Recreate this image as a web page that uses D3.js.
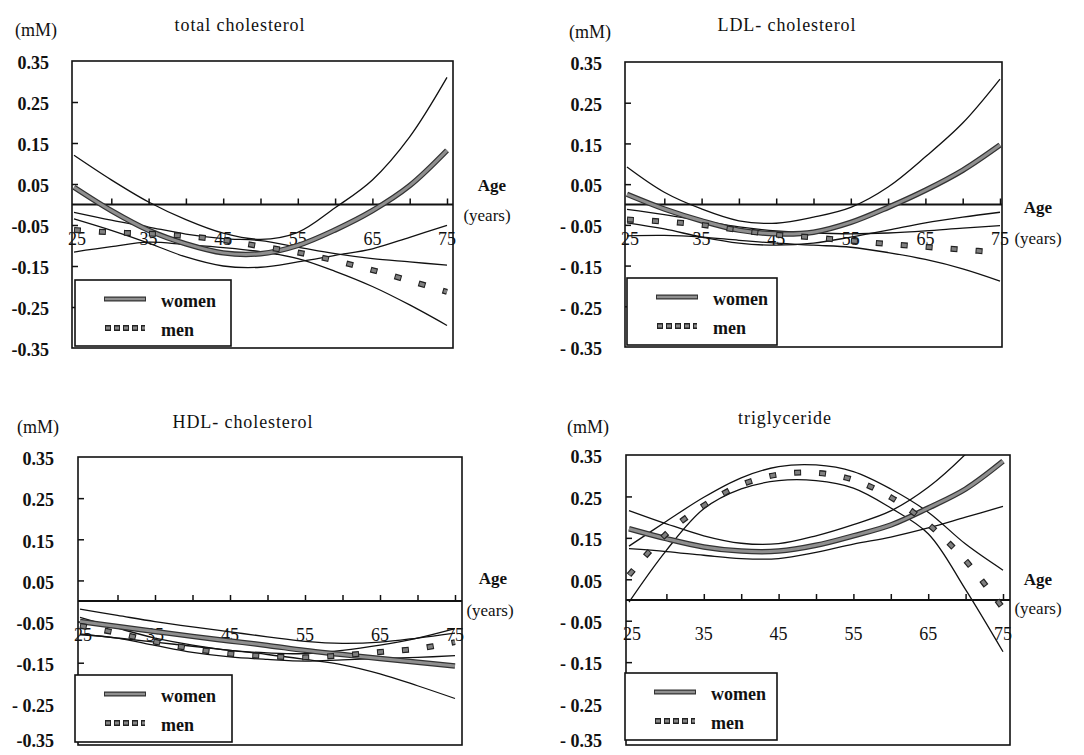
<!DOCTYPE html>
<html>
<head>
<meta charset="utf-8">
<script src="https://cdn.jsdelivr.net/npm/d3@7"></script>
<style>
  body { margin: 0; background: #fff; }
  svg { display: block; }
  text { font-family: "Liberation Serif", "Times New Roman", serif; fill: #111; }
</style>
</head>
<body>
<svg id="chart" width="1084" height="755"></svg>
<script>
// ---------- data ----------
const ages = [25, 30, 35, 40, 45, 50, 55, 60, 65, 70, 75];
const xTickAges = [30, 35, 40, 45, 50, 55, 60, 65, 70, 75];
const xTickLabels = ["25", "35", "45", "55", "65", "75"];
const yTickValues = [0.35, 0.25, 0.15, 0.05, -0.05, -0.15, -0.25, -0.35];
const yLabelsTC  = ["0.35", "0.25", "0.15", "0.05", "-0.05", "-0.15", "-0.25", "-0.35"];
const yLabelsLDL = ["0.35", "0.25", "0.15", "0.05", "- 0.05", "- 0.15", "- 0.25", "- 0.35"];
const yLabelsHDL = ["0.35", "0.25", "0.15", "0.05", "-0.05", "-0.15", "- 0.25", "-0.35"];
const yLabelsTG  = ["0.35", "0.25", "0.15", "0.05", "- 0.05", "- 0.15", "- 0.25", "- 0.35"];
const titles = ["total cholesterol", "LDL- cholesterol", "HDL- cholesterol", "triglyceride"];
const legendLabels = ["women", "men"];

// total cholesterol
const tcWomen      = [0.042, -0.015, -0.063, -0.096, -0.118, -0.12, -0.1, -0.062, -0.015, 0.046, 0.132];
const tcWomenUpper = [0.12, 0.06, 0.006, -0.037, -0.07, -0.085, -0.068, -0.008, 0.06, 0.165, 0.31];
const tcWomenLower = [-0.035, -0.063, -0.094, -0.128, -0.15, -0.153, -0.14, -0.124, -0.108, -0.08, -0.051];
const tcMen        = [-0.062, -0.068, -0.071, -0.077, -0.087, -0.102, -0.117, -0.137, -0.16, -0.186, -0.213];
const tcMenUpper   = [-0.019, -0.038, -0.055, -0.072, -0.083, -0.088, -0.104, -0.12, -0.132, -0.14, -0.148];
const tcMenLower   = [-0.116, -0.103, -0.092, -0.098, -0.105, -0.115, -0.132, -0.163, -0.2, -0.245, -0.295];

// LDL-cholesterol
const ldlWomen      = [0.025, -0.011, -0.04, -0.063, -0.072, -0.068, -0.044, -0.007, 0.035, 0.084, 0.146];
const ldlWomenUpper = [0.092, 0.03, -0.011, -0.04, -0.046, -0.031, -0.007, 0.043, 0.117, 0.2, 0.308];
const ldlWomenLower = [-0.045, -0.06, -0.08, -0.095, -0.1, -0.095, -0.08, -0.063, -0.045, -0.031, -0.019];
const ldlMen        = [-0.037, -0.042, -0.05, -0.063, -0.074, -0.081, -0.089, -0.097, -0.104, -0.111, -0.118];
const ldlMenUpper   = [-0.012, -0.025, -0.04, -0.055, -0.065, -0.07, -0.072, -0.07, -0.065, -0.058, -0.052];
const ldlMenLower   = [-0.077, -0.076, -0.08, -0.088, -0.095, -0.1, -0.105, -0.118, -0.135, -0.158, -0.188];

// HDL-cholesterol
const hdlWomen      = [-0.05, -0.062, -0.074, -0.086, -0.097, -0.108, -0.12, -0.13, -0.14, -0.149, -0.158];
const hdlWomenUpper = [-0.02, -0.035, -0.05, -0.063, -0.075, -0.087, -0.098, -0.103, -0.1, -0.09, -0.078];
const hdlWomenLower = [-0.08, -0.09, -0.1, -0.11, -0.12, -0.13, -0.142, -0.155, -0.177, -0.206, -0.237];
const hdlMen        = [-0.06, -0.078, -0.099, -0.116, -0.128, -0.134, -0.137, -0.132, -0.124, -0.116, -0.1];
const hdlMenUpper   = [-0.04, -0.066, -0.09, -0.107, -0.12, -0.126, -0.128, -0.12, -0.107, -0.09, -0.067];
const hdlMenLower   = [-0.082, -0.09, -0.108, -0.125, -0.136, -0.142, -0.146, -0.143, -0.14, -0.137, -0.133];

// triglyceride
const tgWomen      = [0.172, 0.148, 0.128, 0.118, 0.118, 0.132, 0.155, 0.181, 0.222, 0.268, 0.335];
const tgWomenUpper = [0.216, 0.184, 0.155, 0.137, 0.136, 0.155, 0.182, 0.215, 0.272, 0.352, 0.45];
const tgWomenLower = [0.124, 0.117, 0.108, 0.1, 0.1, 0.115, 0.135, 0.152, 0.174, 0.2, 0.226];
const tgMen        = [0.06, 0.16, 0.228, 0.278, 0.303, 0.307, 0.29, 0.248, 0.183, 0.095, -0.02];
const tgMenUpper   = [0.13, 0.19, 0.248, 0.295, 0.322, 0.326, 0.31, 0.268, 0.212, 0.135, 0.072];
const tgMenLower   = [-0.005, 0.12, 0.22, 0.268, 0.288, 0.288, 0.27, 0.222, 0.16, 0.025, -0.125];

// ---------- layout ----------
const panels = [
  { title: titles[0], yLabels: yLabelsTC, women: tcWomen, wU: tcWomenUpper, wL: tcWomenLower, men: tcMen, mU: tcMenUpper, mL: tcMenLower,
    box: [72, 453, 61, 348], xr: [74, 447], labelRight: 49, mm: [36, 30], titleXY: [240, 25],
    legend: [75, 280, 231, 346], age: [492, 185], years: [487, 215] },
  { title: titles[1], yLabels: yLabelsLDL, women: ldlWomen, wU: ldlWomenUpper, wL: ldlWomenLower, men: ldlMen, mU: ldlMenUpper, mL: ldlMenLower,
    box: [625, 1002, 62, 347], xr: [627, 1000], labelRight: 602, mm: [590, 32], titleXY: [787, 25],
    legend: [627, 278, 777, 345], age: [1038, 207], years: [1038, 238] },
  { title: titles[2], yLabels: yLabelsHDL, women: hdlWomen, wU: hdlWomenUpper, wL: hdlWomenLower, men: hdlMen, mU: hdlMenUpper, mL: hdlMenLower,
    box: [78, 462, 457, 745], xr: [80, 455], labelRight: 54, mm: [38, 427], titleXY: [243, 422],
    legend: [75, 675, 232, 742], age: [493, 578], years: [490, 610] },
  { title: titles[3], yLabels: yLabelsTG, women: tgWomen, wU: tgWomenUpper, wL: tgWomenLower, men: tgMen, mU: tgMenUpper, mL: tgMenLower,
    box: [626, 1010, 455, 745], xr: [629, 1003], labelRight: 602, mm: [588, 427], titleXY: [785, 418],
    legend: [625, 673, 777, 740], age: [1038, 579], years: [1038, 608] }
];

const svg = d3.select("#chart");
const FS = 18;

panels.forEach((p, i) => {
  const [bx0, bx1, by0, by1] = p.box;
  const x = d3.scaleLinear().domain([25, 75]).range(p.xr);
  const y = d3.scaleLinear().domain([-0.35, 0.35]).range([by1, by0]);
  const g = svg.append("g");

  const clipId = "clip" + i;
  svg.append("clipPath").attr("id", clipId)
    .append("rect").attr("x", bx0).attr("y", by0).attr("width", bx1 - bx0).attr("height", by1 - by0);

  // title & unit
  g.append("text").attr("x", p.titleXY[0]).attr("y", p.titleXY[1]).attr("dy", "0.35em")
    .attr("text-anchor", "middle").attr("font-size", FS).attr("letter-spacing", 0.9).text(p.title);
  g.append("text").attr("x", p.mm[0]).attr("y", p.mm[1]).attr("dy", "0.35em")
    .attr("text-anchor", "middle").attr("font-size", FS).text("(mM)");

  // y axis (ticks inward on left edge)
  const yAxis = d3.axisRight(y).tickValues(yTickValues.filter(v => Math.abs(v) < 0.3)).tickSize(6).tickFormat("");
  const ya = g.append("g").attr("transform", `translate(${bx0},0)`).call(yAxis);
  ya.select(".domain").remove();
  ya.selectAll("line").attr("stroke", "#111").attr("stroke-width", 1.5);

  // y labels
  g.selectAll(null).data(yTickValues).enter().append("text")
    .attr("x", p.labelRight).attr("y", d => Math.min(y(d) + 2, 741)).attr("dy", "0.35em")
    .attr("text-anchor", "end").attr("font-size", FS).attr("font-weight", "bold")
    .text((d, k) => p.yLabels[k]);

  // frame
  g.append("rect").attr("x", bx0).attr("y", by0).attr("width", bx1 - bx0).attr("height", by1 - by0)
    .attr("fill", "none").attr("stroke", "#111").attr("stroke-width", 1.6);

  // x axis along zero line (ticks upward)
  const xAxis = d3.axisTop(x).tickValues(xTickAges).tickSize(6).tickFormat("");
  const xa = g.append("g").attr("transform", `translate(0,${y(0)})`).call(xAxis);
  xa.select(".domain").remove();
  xa.selectAll("line").attr("stroke", "#111").attr("stroke-width", 1.5);
  g.append("line").attr("x1", bx0).attr("x2", bx1).attr("y1", y(0)).attr("y2", y(0))
    .attr("stroke", "#111").attr("stroke-width", 1.8);

  // x labels
  g.selectAll(null).data(xTickLabels).enter().append("text")
    .attr("x", d => x(+d) + (d === "25" ? 3 : 0)).attr("y", y(0) + 34).attr("dy", "0.35em")
    .attr("text-anchor", "middle").attr("font-size", 18).text(d => d);

  g.append("text").attr("x", p.age[0]).attr("y", p.age[1]).attr("dy", "0.35em")
    .attr("text-anchor", "middle").attr("font-size", 17).attr("font-weight", "bold").text("Age");
  g.append("text").attr("x", p.years[0]).attr("y", p.years[1]).attr("dy", "0.35em")
    .attr("text-anchor", "middle").attr("font-size", 17).text("(years)");

  // curves
  const line = d3.line().x((d, k) => x(ages[k])).y(d => y(d)).curve(d3.curveCatmullRom.alpha(0.5));
  const cg = g.append("g").attr("clip-path", `url(#${clipId})`);
  [p.wU, p.wL, p.mU, p.mL].forEach(arr => {
    cg.append("path").attr("d", line(arr)).attr("fill", "none").attr("stroke", "#111").attr("stroke-width", 1.3);
  });
  // women: thick gray with dark edges
  cg.append("path").attr("d", line(p.women)).attr("fill", "none").attr("stroke", "#333").attr("stroke-width", 5.5);
  cg.append("path").attr("d", line(p.women)).attr("fill", "none").attr("stroke", "#8f8f8f").attr("stroke-width", 3);
  // men: dashed squares
  cg.append("path").attr("d", line(p.men)).attr("fill", "none").attr("stroke", "#222").attr("stroke-width", 6)
    .attr("stroke-dasharray", "7,18");
  cg.append("path").attr("d", line(p.men)).attr("fill", "none").attr("stroke", "#808080").attr("stroke-width", 3.5)
    .attr("stroke-dasharray", "5,20").attr("stroke-dashoffset", -1);

  // legend
  const [lx0, ly0, lx1, ly1] = p.legend;
  g.append("rect").attr("x", lx0).attr("y", ly0).attr("width", lx1 - lx0).attr("height", ly1 - ly0)
    .attr("fill", "#fff").attr("stroke", "#111").attr("stroke-width", 1.6);
  const wy = ly0 + 19, my = ly0 + 48;
  g.append("line").attr("x1", lx0 + 29).attr("x2", lx0 + 71).attr("y1", wy).attr("y2", wy)
    .attr("stroke", "#333").attr("stroke-width", 5);
  g.append("line").attr("x1", lx0 + 30).attr("x2", lx0 + 70).attr("y1", wy).attr("y2", wy)
    .attr("stroke", "#8f8f8f").attr("stroke-width", 2.6);
  g.append("line").attr("x1", lx0 + 30).attr("x2", lx0 + 70).attr("y1", my).attr("y2", my)
    .attr("stroke", "#222").attr("stroke-width", 6).attr("stroke-dasharray", "6,3");
  g.append("line").attr("x1", lx0 + 31).attr("x2", lx0 + 70).attr("y1", my).attr("y2", my)
    .attr("stroke", "#888").attr("stroke-width", 3).attr("stroke-dasharray", "4,5");
  g.selectAll(null).data(legendLabels).enter().append("text")
    .attr("x", lx0 + 86).attr("y", (d, k) => (k === 0 ? wy : my) + 2).attr("dy", "0.35em")
    .attr("font-size", 18).attr("font-weight", "bold").text(d => d);
});
</script>
</body>
</html>
